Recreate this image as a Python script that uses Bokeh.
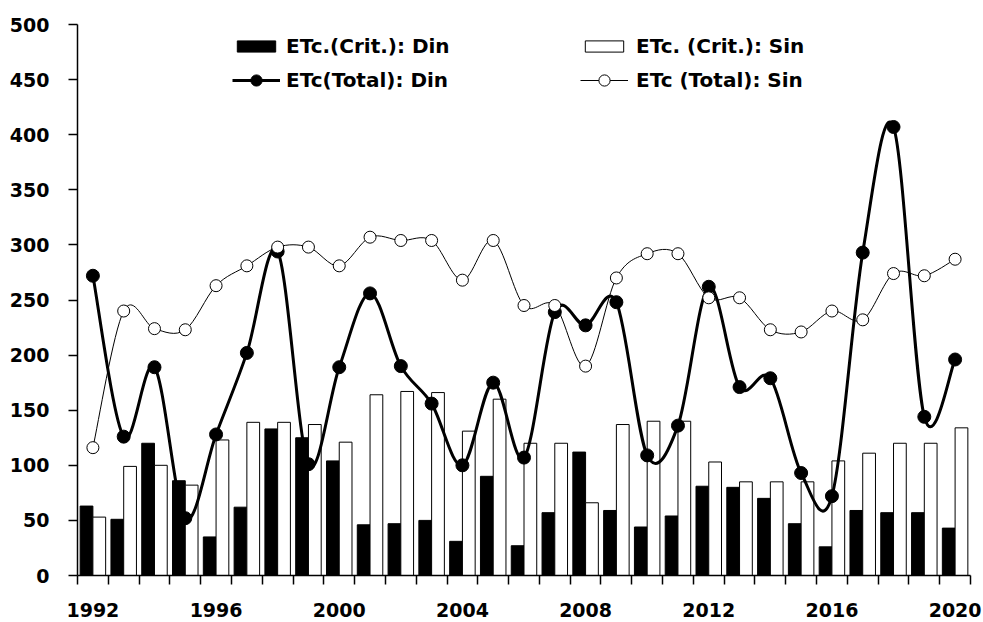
from bokeh.plotting import figure
from bokeh.models import Range1d, FixedTicker, Legend, LegendItem, ColumnDataSource
from bokeh.embed import file_html
from bokeh.resources import INLINE

years = list(range(1992, 2021))
din_crit = [63, 51, 120, 86, 35, 62, 133, 125, 104, 46, 47, 50, 31, 90, 27, 57, 112, 59, 44, 54, 81, 80, 70, 47, 26, 59, 57, 57, 43]
sin_crit = [53, 99, 100, 82, 123, 139, 139, 137, 121, 164, 167, 166, 131, 160, 120, 120, 66, 137, 140, 140, 103, 85, 85, 85, 104, 111, 120, 120, 134]
din_total = [272, 126, 189, 52, 128, 202, 294, 101, 189, 256, 190, 156, 100, 175, 107, 239, 227, 248, 109, 136, 262, 171, 179, 93, 72, 293, 407, 144, 196]
sin_total = [116, 240, 224, 223, 263, 281, 298, 298, 281, 307, 304, 304, 268, 304, 245, 245, 190, 270, 292, 292, 252, 252, 223, 221, 240, 232, 274, 272, 287]
label_years = [1992, 1996, 2000, 2004, 2008, 2012, 2016, 2020]
y_ticks = list(range(0, 501, 50))
names = ["ETc.(Crit.): Din", "ETc. (Crit.): Sin", "ETc(Total): Din", "ETc (Total): Sin"]

FONT = "DejaVu Sans"

p = figure(width=983, height=622, output_backend="svg", toolbar_location=None,
           x_range=Range1d(years[0] - 0.5, years[-1] + 0.5), y_range=Range1d(0, 500),
           min_border_left=77, min_border_right=13, min_border_top=24, min_border_bottom=47)
p.frame_width = 893
p.frame_height = 551
p.outline_line_color = None
p.xgrid.visible = False
p.ygrid.visible = False
p.background_fill_color = "white"
p.border_fill_color = "white"

# x axis: tick marks at category boundaries, labels every 4 years
xa = p.xaxis[0]
xa.ticker = FixedTicker(ticks=label_years, minor_ticks=[y - 0.5 for y in years] + [years[-1] + 0.5])
xa.major_tick_out = 0
xa.major_tick_in = 0
xa.minor_tick_out = 9
xa.minor_tick_in = 0
xa.minor_tick_line_color = "black"
xa.minor_tick_line_width = 1.5
xa.axis_line_width = 1.5
xa.major_label_standoff = 18
xa.major_label_text_font = FONT
xa.major_label_text_font_style = "bold"
xa.major_label_text_font_size = "19px"
xa.major_label_text_color = "black"

ya = p.yaxis[0]
ya.ticker = FixedTicker(ticks=y_ticks)
ya.major_tick_out = 9
ya.major_tick_in = 0
ya.minor_tick_out = 0
ya.minor_tick_in = 0
ya.major_tick_line_width = 1.5
ya.axis_line_width = 1.5
ya.major_label_standoff = 19
ya.major_label_text_font = FONT
ya.major_label_text_font_style = "bold"
ya.major_label_text_font_size = "19px"
ya.major_label_text_color = "black"

bw = 0.414
r_dc = p.vbar(x=[y - 0.207 for y in years], top=din_crit, width=bw, fill_color="black", line_color="black", line_width=1)
r_sc = p.vbar(x=[y + 0.207 for y in years], top=sin_crit, width=bw, fill_color="white", line_color="black", line_width=1)


def smooth_source(xs, ys):
    # Bezier control points (Catmull-Rom style, like a spreadsheet "smoothed line")
    n = len(xs)
    d = dict(x0=[], y0=[], x1=[], y1=[], cx0=[], cy0=[], cx1=[], cy1=[])
    for i in range(n - 1):
        i0 = max(i - 1, 0)
        i3 = min(i + 2, n - 1)
        d["x0"].append(xs[i]); d["y0"].append(ys[i])
        d["x1"].append(xs[i + 1]); d["y1"].append(ys[i + 1])
        d["cx0"].append(xs[i] + (xs[i + 1] - xs[i0]) / 6.0)
        d["cy0"].append(ys[i] + (ys[i + 1] - ys[i0]) / 6.0)
        d["cx1"].append(xs[i + 1] - (xs[i3] - xs[i]) / 6.0)
        d["cy1"].append(ys[i + 1] - (ys[i3] - ys[i]) / 6.0)
    return ColumnDataSource(d)


l_dt = p.bezier(x0="x0", y0="y0", x1="x1", y1="y1", cx0="cx0", cy0="cy0", cx1="cx1", cy1="cy1",
                source=smooth_source(years, din_total), line_color="black", line_width=3)
m_dt = p.scatter(years, din_total, marker="circle", size=13, fill_color="black", line_color="black")

l_st = p.bezier(x0="x0", y0="y0", x1="x1", y1="y1", cx0="cx0", cy0="cy0", cx1="cx1", cy1="cy1",
                source=smooth_source(years, sin_total), line_color="black", line_width=1)
m_st = p.scatter(years, sin_total, marker="circle", size=12, fill_color="white", line_color="black", line_width=1)


def make_legend(item, x, y, standoff, gh):
    lg = Legend(items=[item], location=(x, y), orientation="vertical",
                glyph_width=48, glyph_height=gh, label_height=20, spacing=0,
                label_standoff=standoff, padding=0, margin=0,
                border_line_color=None, background_fill_alpha=0,
                label_text_font=FONT, label_text_font_style="bold",
                label_text_font_size="20px", label_text_color="black")
    p.add_layout(lg, "center")


make_legend(LegendItem(label=names[0], renderers=[r_dc]), 155, 517, 6, 14)
make_legend(LegendItem(label=names[2], renderers=[l_dt, m_dt]), 155, 481, 6, 28)
make_legend(LegendItem(label=names[1], renderers=[r_sc]), 503, 517, 8, 14)
make_legend(LegendItem(label=names[3], renderers=[l_st, m_st]), 503, 481, 8, 28)

open("out.html", "w").write(file_html(p, INLINE))
